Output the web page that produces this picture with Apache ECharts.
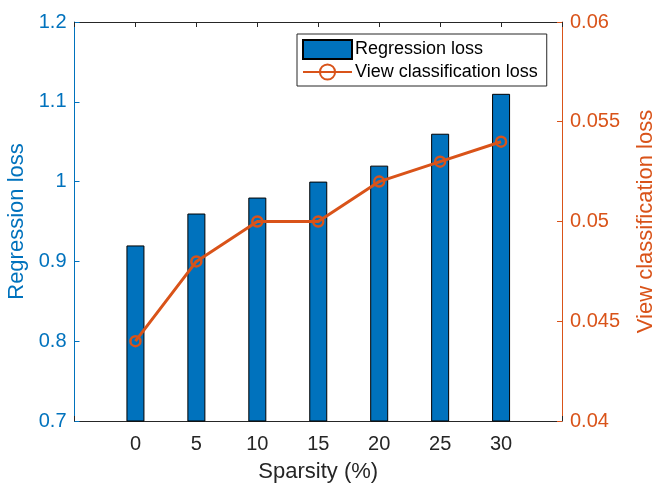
<!DOCTYPE html>
<html>
<head>
<meta charset="utf-8">
<script src="https://cdn.jsdelivr.net/npm/echarts@6/dist/echarts.min.js"></script>
<style>
  html, body { margin: 0; padding: 0; background: #fff; }
  #chart { width: 654px; height: 485px; }
</style>
</head>
<body>
<div id="chart"></div>
<script>
// data
const sparsity = [0, 5, 10, 15, 20, 25, 30];
const regressionLoss = [0.92, 0.96, 0.98, 1.00, 1.02, 1.06, 1.11];
const viewClsLoss = [0.044, 0.048, 0.050, 0.050, 0.052, 0.053, 0.054];

const blue = "#0072BD";
const orange = "#D95319";
const dark = "#262626";
const font = "Liberation Sans, Arial, sans-serif";

const chart = echarts.init(document.getElementById("chart"), null, { renderer: "canvas" });

const hideEnds = (v) => (v < 0 || v > 30 ? "" : String(v));

const options = {
  animation: false,
  textStyle: { fontFamily: font },
  grid: { left: 74.5, right: 92, top: 22, bottom: 64, outerBoundsMode: "none" },
  legend: {
    orient: "vertical",
    left: 297,
    top: 34,
    padding: [5, 9, 5, 5],
    itemGap: 3,
    itemWidth: 49,
    itemHeight: 19,
    borderColor: dark,
    borderWidth: 1,
    borderRadius: 0,
    backgroundColor: "#fff",
    textStyle: { fontSize: 18, color: "#000", fontFamily: font, padding: [0, 0, 0, -2] },
    data: [
      { name: "Regression loss", icon: "rect" },
      { name: "View classification loss" },
    ],
  },
  xAxis: [
    {
      type: "value",
      min: -5,
      max: 35,
      interval: 5,
      name: "Sparsity (%)",
      nameLocation: "middle",
      nameGap: 40,
      nameTextStyle: { fontSize: 22, color: dark },
      axisLine: { show: true, onZero: false, lineStyle: { color: dark, width: 1 } },
      axisTick: { show: true, inside: true, length: 5, lineStyle: { color: dark } },
      axisLabel: { fontSize: 20, color: dark, margin: 13, formatter: hideEnds },
      splitLine: { show: false },
    },
    {
      type: "value",
      position: "top",
      min: -5,
      max: 35,
      interval: 5,
      axisLine: { show: true, onZero: false, lineStyle: { color: dark, width: 1 } },
      axisTick: { show: true, inside: true, length: 5, lineStyle: { color: dark } },
      axisLabel: { show: false },
      splitLine: { show: false },
    },
  ],
  yAxis: [
    {
      type: "value",
      min: 0.7,
      max: 1.2,
      interval: 0.1,
      name: "Regression loss",
      nameLocation: "middle",
      nameGap: 45,
      nameTextStyle: { fontSize: 22, color: blue },
      axisLine: { show: true, onZero: false, lineStyle: { color: blue, width: 1 } },
      axisTick: { show: true, inside: true, length: 5, lineStyle: { color: blue } },
      axisLabel: { fontSize: 20, color: blue, margin: 8 },
      splitLine: { show: false },
    },
    {
      type: "value",
      position: "right",
      min: 0.04,
      max: 0.06,
      interval: 0.005,
      name: "View classification loss",
      nameLocation: "middle",
      nameGap: 73,
      nameRotate: 90,
      nameTextStyle: { fontSize: 22, color: orange },
      axisLine: { show: true, onZero: false, lineStyle: { color: orange, width: 1 } },
      axisTick: { show: true, inside: true, length: 5, lineStyle: { color: orange } },
      axisLabel: { fontSize: 20, color: orange, margin: 8 },
      splitLine: { show: false },
    },
  ],
  series: [
    {
      name: "Regression loss",
      type: "bar",
      xAxisIndex: 0,
      yAxisIndex: 0,
      barWidth: 18,
      itemStyle: { color: blue, borderColor: "#000", borderWidth: 1 },
      data: sparsity.map((s, i) => [s, regressionLoss[i]]),
    },
    {
      name: "View classification loss",
      type: "line",
      xAxisIndex: 0,
      yAxisIndex: 1,
      symbol: "circle",
      symbolSize: 10,
      lineStyle: { color: orange, width: 3 },
      itemStyle: { color: "rgba(0,0,0,0)", borderColor: orange, borderWidth: 2.5 },
      data: sparsity.map((s, i) => [s, viewClsLoss[i]]),
    },
  ],
};

chart.setOption(options);
</script>
</body>
</html>
